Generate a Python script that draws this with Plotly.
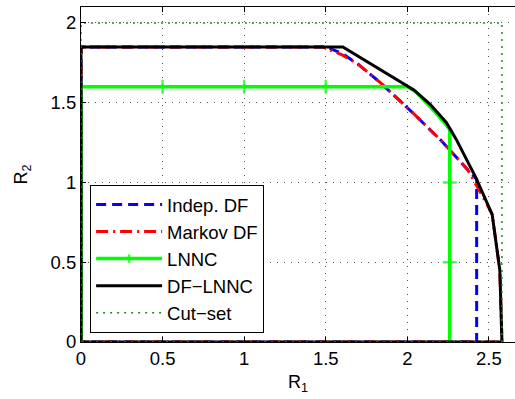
import plotly.graph_objects as go

# ---- data ----
indep_x = [0, 0, 1.50, 1.60, 1.70, 1.83, 2.03, 2.21, 2.37, 2.425, 2.425, 0]
indep_y = [0, 1.85, 1.85, 1.81, 1.74, 1.63, 1.44, 1.26, 1.08, 1.02, 0, 0]

markov_x = [0, 0, 1.48, 1.60, 1.70, 1.83, 2.03, 2.21, 2.37, 2.45, 2.48, 2.52, 2.567, 2.58, 0]
markov_y = [0, 1.85, 1.85, 1.80, 1.74, 1.63, 1.44, 1.26, 1.08, 0.94, 0.88, 0.80, 0.45, 0, 0]

lnnc_x = [0, 0, 0.5, 1.0, 1.5, 2.0, 2.05, 2.14, 2.24, 2.26, 2.26, 2.26, 2.26]
lnnc_y = [0, 1.6, 1.6, 1.6, 1.6, 1.6, 1.57, 1.475, 1.36, 1.33, 1.0, 0.5, 0]
lnnc_mark = [1, 1, 1, 1, 1, 0, 0, 0, 0, 0, 1, 1, 1]

dflnnc_x = [0, 0, 1.605, 2.04, 2.14, 2.24, 2.30, 2.365, 2.42, 2.52, 2.567, 2.58, 0]
dflnnc_y = [0, 1.85, 1.85, 1.58, 1.49, 1.375, 1.27, 1.14, 1.03, 0.80, 0.45, 0, 0]

cut_x = [0, 0, 2.58, 2.58, 0]
cut_y = [0, 2.0, 2.0, 0, 0]

x_ticks = [0, 0.5, 1, 1.5, 2, 2.5]
x_ticktext = ["0", "0.5", "1", "1.5", "2", "2.5"]
y_ticks = [0, 0.5, 1, 1.5, 2]
y_ticktext = ["0", "0.5", "1", "1.5", "2"]

FONT = "Liberation Sans, Arial, sans-serif"

fig = go.Figure()
fig.add_trace(go.Scatter(x=indep_x, y=indep_y, mode="lines", name="Indep. DF",
                         line=dict(color="#0000ff", width=3, dash="10px,6px")))
fig.add_trace(go.Scatter(x=markov_x, y=markov_y, mode="lines", name="Markov DF",
                         line=dict(color="#ff0000", width=3, dash="12px,5px,2px,5px")))
fig.add_trace(go.Scatter(x=lnnc_x, y=lnnc_y, mode="lines+markers", name="LNNC",
                         line=dict(color="#00ff00", width=3.5),
                         marker=dict(symbol="cross-thin", size=[10 if m else 0 for m in lnnc_mark],
                                     color="#00ff00", line=dict(color="#00ff00", width=2.5))))
fig.add_trace(go.Scatter(x=dflnnc_x, y=dflnnc_y, mode="lines", name="DF\u2212LNNC",
                         line=dict(color="#000000", width=3)))
fig.add_trace(go.Scatter(x=cut_x, y=cut_y, mode="lines", name="Cut\u2212set",
                         line=dict(color="#1a8c1a", width=1.5, dash="2px,5px")))

fig.update_layout(
    width=515, height=399,
    margin=dict(l=81, r=0, t=7, b=57),
    paper_bgcolor="white", plot_bgcolor="white",
    font=dict(family=FONT, size=18, color="black"),
    showlegend=True,
    legend=dict(x=0.021, y=0.027, xanchor="left", yanchor="bottom",
                bgcolor="white", bordercolor="black", borderwidth=1,
                font=dict(family=FONT, size=18.5), itemwidth=66,
                tracegroupgap=0),
    xaxis=dict(range=[0, 2.66], tickvals=x_ticks, ticktext=x_ticktext,
               showline=True, linecolor="black", linewidth=1, mirror="ticks",
               ticks="inside", ticklen=5, tickcolor="black",
               showgrid=True, gridcolor="#555555", griddash="1px,6px", gridwidth=1,
               zeroline=False, tickfont=dict(size=18.5),
               title=dict(text="R<sub>1</sub>", standoff=7, font=dict(size=18))),
    yaxis=dict(range=[0, 2.1], tickvals=y_ticks, ticktext=y_ticktext,
               showline=True, linecolor="black", linewidth=1, mirror=False,
               ticks="inside", ticklen=5, tickcolor="black",
               showgrid=True, gridcolor="#555555", griddash="1px,6px", gridwidth=1,
               zeroline=False, tickfont=dict(size=18.5),
               title=dict(text="R<sub>2</sub>", standoff=18, font=dict(size=18))),
)

fig.write_html("out.html")
